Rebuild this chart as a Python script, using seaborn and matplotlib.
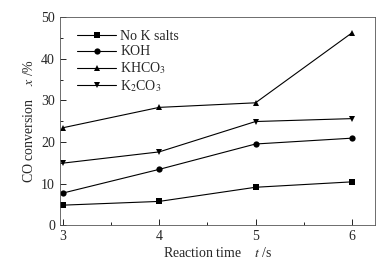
import pandas as pd
import matplotlib.pyplot as plt
import seaborn as sns
from matplotlib.ticker import MultipleLocator

# data
times = [3, 4, 5, 6]
no_k = [4.8, 5.7, 9.1, 10.4]
koh = [7.7, 13.4, 19.5, 20.9]
khco3 = [23.4, 28.3, 29.4, 46.2]
k2co3 = [14.9, 17.6, 24.9, 25.6]
labels = ["No K salts", "KOH", "KHCO$_3$", "K$_2$CO$_3$"]

sns.set_style("ticks")
plt.rcParams["font.family"] = ["Liberation Serif", "DejaVu Serif"]
plt.rcParams["mathtext.fontset"] = "stix"

rows = []
for lab, vals in zip(labels, [no_k, koh, khco3, k2co3]):
    for t, v in zip(times, vals):
        rows.append({"t": t, "x": v, "series": lab})
df = pd.DataFrame(rows)

fig = plt.figure(figsize=(3.89, 2.63), dpi=100)
ax = fig.add_axes([0.154, 0.144, 0.81, 0.791])

markers = dict(zip(labels, ["s", "o", "^", "v"]))
sns.lineplot(data=df, x="t", y="x", hue="series", style="series",
             palette=["black"] * 4, markers=markers, dashes=False,
             markersize=4.5, linewidth=0.8, markeredgewidth=0, ax=ax)

ax.set_xlim(2.97, 6.24)
ax.set_ylim(0, 50)
ax.xaxis.set_major_locator(MultipleLocator(1))
ax.xaxis.set_minor_locator(MultipleLocator(0.5))
ax.yaxis.set_major_locator(MultipleLocator(10))
ax.yaxis.set_minor_locator(MultipleLocator(5))
ax.tick_params(which="both", direction="in", top=False, right=False,
               labelsize=10, width=0.6, color="black")
ax.tick_params(which="major", length=4)
ax.tick_params(which="minor", length=2.5)
for s in ax.spines.values():
    s.set_linewidth(0.6)
    s.set_color("#555555")

ax.set_xlabel("Reaction time    $\\it{t}$ /s", fontsize=10, labelpad=2)
ax.set_ylabel("CO conversion    $\\it{x}$ /%", fontsize=10, labelpad=4)

leg = ax.legend(loc="upper left", frameon=False, fontsize=10,
                handlelength=2.8, handletextpad=0.3, labelspacing=0.15,
                borderaxespad=0.4, bbox_to_anchor=(0.02, 0.99))

fig.savefig("out.png", dpi=100)
